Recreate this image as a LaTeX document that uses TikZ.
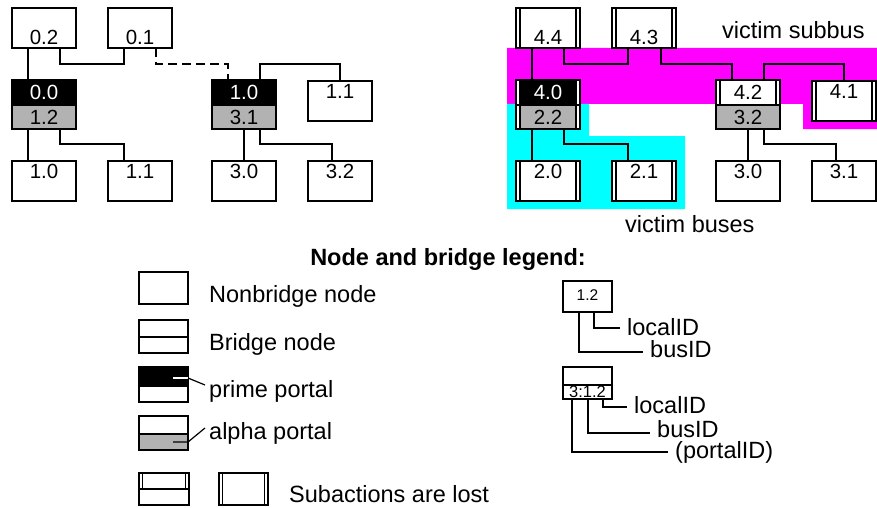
\documentclass[tikz,border=0pt]{standalone}
\usepackage{fontspec}
\setmainfont{Liberation Sans}
\usetikzlibrary{calc}
\definecolor{alphagray}{gray}{0.7}
\definecolor{subbusfill}{RGB}{255,0,255}
\definecolor{busfill}{RGB}{0,255,255}

\begin{document}
\begin{tikzpicture}[x=1pt,y=-1pt,
  nbox/.style={draw,fill=white,line width=2pt,inner sep=0pt,outer sep=0pt,minimum width=64pt,
    minimum height=40pt,font=\fontsize{20.5}{24}\selectfont},
  lbot/.style={nbox,text height=37pt,text depth=3pt},
  ltop/.style={nbox,text height=17.5pt,text depth=22.5pt},
  upper/.style={nbox,minimum height=25pt,text height=14.7pt,text depth=-2pt},
  lower/.style={nbox,minimum height=24pt},
  prime/.style={upper,fill=black,text=white},
  alpha/.style={lower,fill=alphagray},
  lost/.style={path picture={
    \fill[white] (path picture bounding box.north west) rectangle ([xshift=#1]path picture bounding box.south west);
    \fill[white] (path picture bounding box.north east) rectangle ([xshift=-#1]path picture bounding box.south east);
    \draw[line width=1.6pt] ([xshift=#1]path picture bounding box.north west) -- ([xshift=#1]path picture bounding box.south west);
    \draw[line width=1.6pt] ([xshift=-#1]path picture bounding box.north east) -- ([xshift=-#1]path picture bounding box.south east);
  }},
  lost/.default=4pt,
  wire/.style={line width=2pt},
  ptr/.style={line width=1.2pt},
  leg/.style={draw,fill=white,line width=2pt,inner sep=0pt,outer sep=0pt,minimum width=49pt,
    font=\fontsize{15.5}{18}\selectfont},
  lbl/.style={inner sep=0pt,anchor=base west,font=\fontsize{23.5}{28}\selectfont},
  idtext/.style={lbl,inner xsep=7pt}]
\useasboundingbox (0,0) rectangle (877,508);

% victim regions
\fill[subbusfill] (507,48) -- (877,48) -- (877,129) -- (803,129) -- (803,104) -- (507,104) -- cycle;
\fill[busfill] (507,104) -- (589,104) -- (589,136) -- (685,136) -- (685,209) -- (507,209) -- cycle;

% left bus
\node[lbot] (L02) at (44,28) {0.2};
\node[lbot] (L01) at (140,28) {0.1};
\node[prime] (L00) at (44,92.5) {0.0};
\node[alpha] (L12) at (44,117) {1.2};
\node[ltop] (L10) at (44,181) {1.0};
\node[ltop] (L11) at (140,181) {1.1};

% middle bus
\node[prime] (M10) at (244,92.5) {1.0};
\node[alpha] (M31) at (244,117) {3.1};
\node[ltop] (M11) at (340,101) {1.1};
\node[ltop] (M30) at (244,181) {3.0};
\node[ltop] (M32) at (340,181) {3.2};

% right bus
\node[lbot,lost] (R44) at (548,28) {4.4};
\node[lbot,lost] (R43) at (644,28) {4.3};
\node[prime,lost] (R40) at (548,92.5) {4.0};
\node[alpha,lost] (R22) at (548,117) {2.2};
\node[ltop,lost] (R20) at (548,181) {2.0};
\node[ltop,lost] (R21) at (644,181) {2.1};
\node[upper,lost] (R42) at (748,92.5) {4.2};
\node[alpha] (R32) at (748,117) {3.2};
\node[ltop,lost] (R41) at (844,101) {4.1};
\node[ltop] (R30) at (748,181) {3.0};
\node[ltop] (R31) at (844,181) {3.1};

% connections
\draw[wire] ($(L02.south)+(-16,0)$) -- ($(L00.north)+(-16,0)$);
\draw[wire] ($(L02.south)+(16,0)$) -- ++(0,16) -| ($(L01.south)+(-16,0)$);
\draw[wire,dash pattern=on 9pt off 5pt] ($(L01.south)+(16,0)$) -- ++(0,16) -| ($(M10.north)+(-16,0)$);
\draw[wire] ($(L12.south)+(-16,0)$) -- ($(L10.north)+(-16,0)$);
\draw[wire] ($(L12.south)+(16,0)$) -- ++(0,15) -| ($(L11.north)+(-16,0)$);
\draw[wire] ($(M10.north)+(16,0)$) -- ++(0,-16) -| (M11.north);
\draw[wire] (M31.south) -- (M30.north);
\draw[wire] ($(M31.south)+(16,0)$) -- ++(0,15) -| ($(M32.north)+(-8,0)$);
\draw[wire] ($(R44.south)+(-16,0)$) -- ($(R40.north)+(-16,0)$);
\draw[wire] ($(R44.south)+(16,0)$) -- ++(0,16) -| ($(R43.south)+(-16,0)$);
\draw[wire] ($(R43.south)+(17,0)$) -- ++(0,16) -| ($(R42.north)+(-16,0)$);
\draw[wire] ($(R42.north)+(16,0)$) -- ++(0,-16) -| (R41.north);
\draw[wire] ($(R22.south)+(-16,0)$) -- ($(R20.north)+(-16,0)$);
\draw[wire] ($(R22.south)+(16,0)$) -- ++(0,15) -| ($(R21.north)+(-16,0)$);
\draw[wire] (R32.south) -- (R30.north);
\draw[wire] ($(R32.south)+(16,0)$) -- ++(0,15) -| ($(R31.north)+(-8,0)$);

\node[lbl] (subbus) at (722,39) {victim subbus};
\node[lbl] (buses) at (625,232) {victim buses};

% legend
\node[lbl,anchor=base,font=\fontsize{23.5}{28}\selectfont\bfseries] (legend) at (448,265) {Node and bridge legend:};

\node[leg,minimum height=32pt] (LgN) at (163.5,288) {};
\node[lbl] (tN) at (209,302) {Nonbridge node};
\node[leg,minimum height=17pt] (LgBu) at (163.5,328.5) {};
\node[leg,minimum height=16pt] (LgBl) at (163.5,345) {};
\node[lbl] (tB) at (209,350) {Bridge node};
\node[leg,minimum height=19pt,fill=black] (LgPu) at (163.5,376.5) {};
\node[leg,minimum height=16pt] (LgPl) at (163.5,394) {};
\node[lbl,inner xsep=4pt] (tP) at (205,397) {prime portal};
\node[leg,minimum height=18pt] (LgAu) at (163.5,425) {};
\node[leg,minimum height=16pt,fill=alphagray] (LgAl) at (163.5,442) {};
\node[lbl,inner xsep=4pt] (tA) at (205,439) {alpha portal};
\node[leg,minimum height=16pt,minimum width=50pt,lost=3.5pt] (LgSu) at (164,481) {};
\node[leg,minimum height=16pt,minimum width=50pt] (LgSl) at (164,497) {};
\node[leg,minimum height=32pt,lost=3.5pt] (LgS) at (243.5,489) {};
\node[lbl] (tS) at (289,502) {Subactions are lost};

\draw[ptr,white,line width=1.5pt] ($(LgPu.east)+(-15,1.5)$) -- ($(LgPu.east)+(0,1.5)$);
\draw[ptr] ($(LgPu.east)+(0,1.5)$) -- ([yshift=12pt]tP.base west);
\draw[ptr] ($(LgAl.east)+(-15,0)$) -- (LgAl.east) -- ([yshift=11pt]tA.base west);

\node[leg,minimum height=31pt,text height=10pt,text depth=3pt] (IdN) at (587.5,296.5) {1.2};
\node[leg,minimum height=18pt] (IdBu) at (587.5,376) {};
\node[leg,minimum height=14pt,font=\fontsize{16.5}{18}\selectfont] (IdBl) at (587.5,392) {3:1.2};

\node[idtext] (locA) at (620,335) {localID};
\node[idtext] (busA) at (643,357) {busID};
\node[idtext] (locB) at (627,413) {localID};
\node[idtext] (busB) at (650,437) {busID};
\node[idtext] (portB) at (668,458) {(portalID)};

\draw[wire] ($(IdN.south)+(6.5,0)$) |- ([yshift=7pt]locA.base west);
\draw[wire] ($(IdN.south)+(-8.5,0)$) |- ([yshift=5pt]busA.base west);
\draw[wire] ($(IdBl.south)+(15.5,0)$) |- ([yshift=6pt]locB.base west);
\draw[wire] ($(IdBl.south)+(0.5,0)$) |- ([yshift=4pt]busB.base west);
\draw[wire] ($(IdBl.south)+(-15.5,0)$) |- ([yshift=6pt]portB.base west);
\end{tikzpicture}
\end{document}
